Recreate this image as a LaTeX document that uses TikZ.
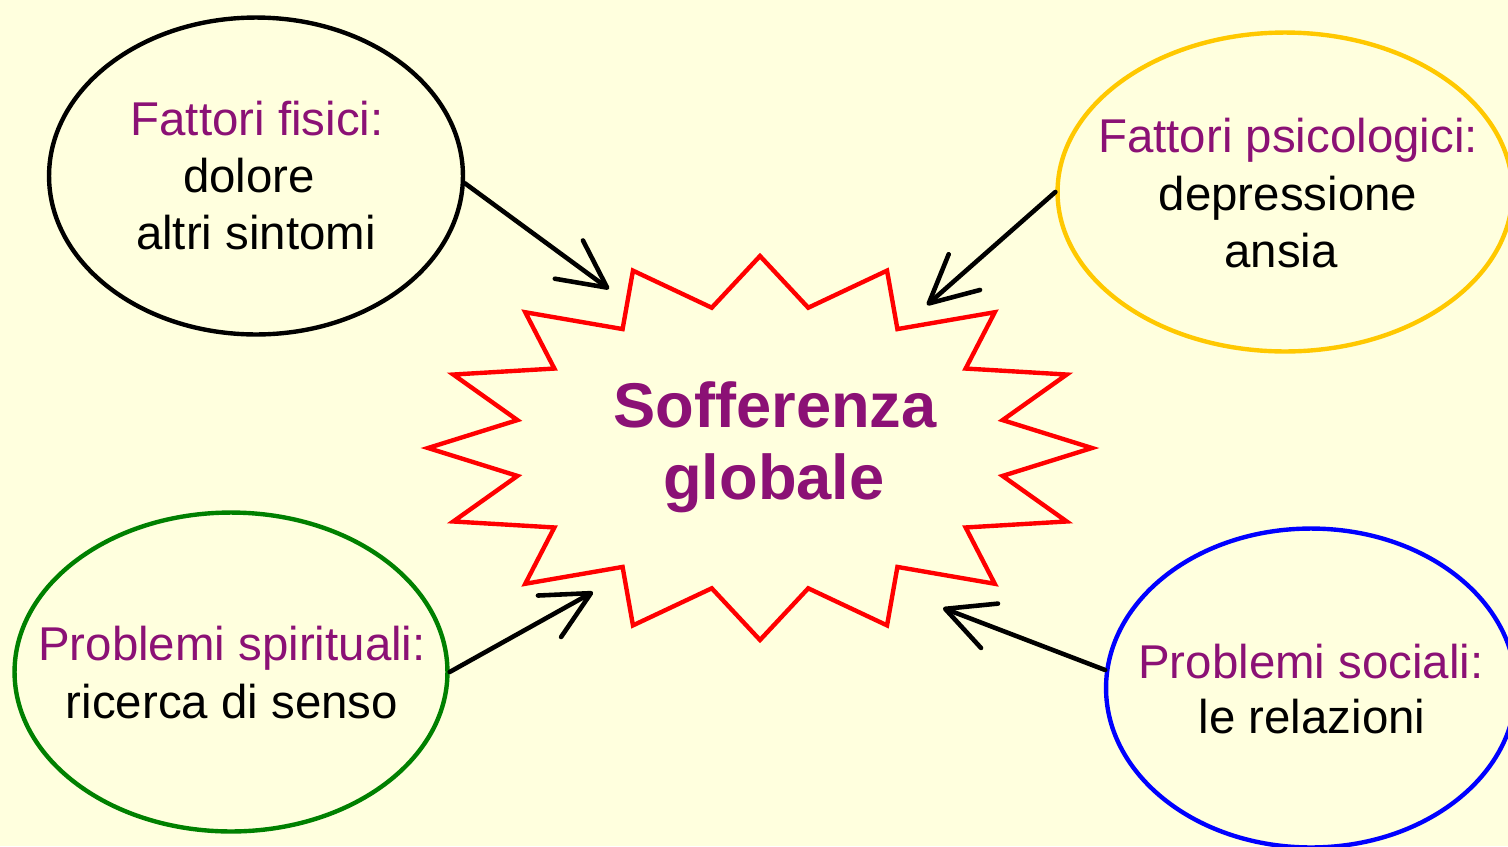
\documentclass[tikz,border=0pt]{standalone}
\usepackage{fontspec}
\setmainfont{Liberation Sans}
\usetikzlibrary{shapes.geometric,arrows.meta}
\definecolor{bgyellow}{RGB}{255,255,222}
\definecolor{txtpurple}{RGB}{139,17,117}
\definecolor{ellyellow}{RGB}{255,200,0}
\definecolor{ellgreen}{RGB}{0,128,0}
\definecolor{ellblue}{RGB}{0,0,255}
\definecolor{starred}{RGB}{255,0,0}
\tikzset{
  oval/.style={ellipse, draw, line width=2.5pt, inner sep=0pt, minimum width=#1},
  oval/.default=8cm,
  headline/.style={anchor=base, inner sep=0pt, text=txtpurple, font=\fontsize{27}{32}\selectfont},
  bodyline/.style={anchor=base, inner sep=0pt, text=black, font=\fontsize{27}{32}\selectfont},
  bigline/.style={anchor=base, inner sep=0pt, text=txtpurple, font=\fontsize{36}{42}\selectfont\bfseries},
  burst/.style={draw=starred, line width=2.5pt, line join=miter},
  pointer/.style={draw=black, line width=2.6pt, line cap=round,
    -{Straight Barb[length=0.95cm, width=0.95cm, round]}}
}
\begin{document}
\begin{tikzpicture}[x=0.02cm, y=-0.02cm]
\useasboundingbox (0,0) rectangle (1508,846);
\fill[bgyellow] (0,0) rectangle (1508,846);

% ellipses
\node[oval=8.28cm, minimum height=6.34cm, draw=black] (fisici) at (256,176) {};
\node[oval=9.1cm, minimum height=6.38cm, draw=ellyellow] (psico) at (1285,192) {};
\node[oval=8.66cm, minimum height=6.38cm, draw=ellgreen] (spirit) at (231,672) {};
\node[oval=8.2cm, minimum height=6.38cm, draw=ellblue] (sociali) at (1311,688) {};

% starburst
\draw[burst] plot[samples at={0,...,31}, variable=\k]
  ({760+332*(1-0.255*mod(\k,2))*cos(90-11.25*\k)},
   {448-192*(1-0.255*mod(\k,2))*sin(90-11.25*\k)}) -- cycle;

% texts
\node[headline] (f1) at (257,135) {Fattori fisici:};
\node[bodyline] (f2) at (249,192) {dolore};
\node[bodyline] (f3) at (256,249) {altri sintomi};

\node[headline] (p1) at (1288,152) {Fattori psicologici:};
\node[bodyline] (p2) at (1288,210) {depressione};
\node[bodyline] (p3) at (1281,267) {ansia};

\node[headline] (s1) at (232,660) {Problemi spirituali:};
\node[bodyline] (s2) at (232,718) {ricerca di senso};

\node[headline] (r1) at (1311,678) {Problemi sociali:};
\node[bodyline] (r2) at (1312,733) {le relazioni};

\node[bigline] (c1) at (775,427) {Sofferenza};
\node[bigline] (c2) at (774,499) {globale};

% arrow tips
\coordinate (tipA) at (609,289);
\coordinate (tipB) at (927,305);
\coordinate (tipC) at (593,592);
\coordinate (tipD) at (943,608);

\draw[pointer] (fisici.-2) -- (tipA);
\draw[pointer] (psico.180) -- (tipB);
\draw[pointer] (spirit.0) -- (tipC);
\draw[pointer] (sociali.175) -- (tipD);
\end{tikzpicture}
\end{document}
